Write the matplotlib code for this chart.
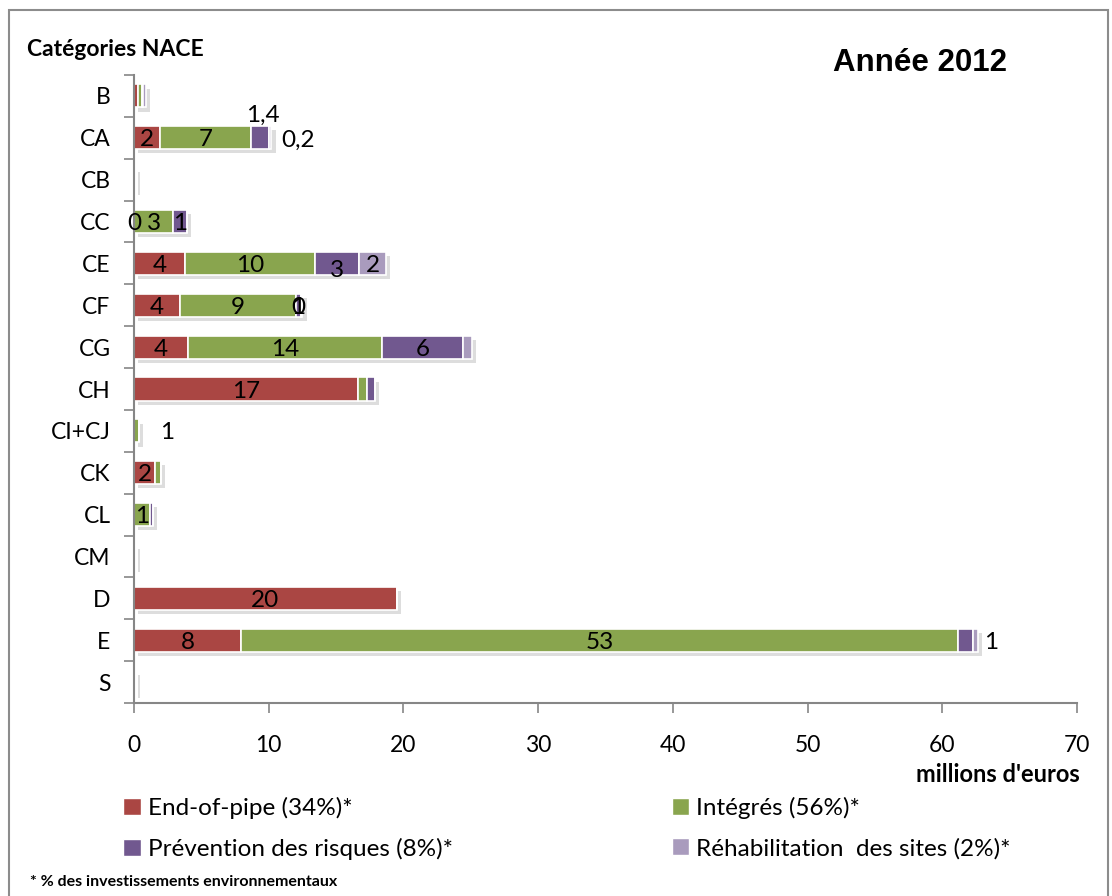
import matplotlib
matplotlib.use("Agg")
import matplotlib.pyplot as plt
import matplotlib.patheffects as pe
from matplotlib.patches import Rectangle
import numpy as np

plt.rcParams['font.family'] = ['Lato', 'DejaVu Sans']

categories = ["B", "CA", "CB", "CC", "CE", "CF", "CG", "CH", "CI+CJ", "CK", "CL", "CM", "D", "E", "S"]
end_of_pipe = [0.3, 1.9, 0.05, 0.0, 3.8, 3.4, 4.0, 16.6, 0.0, 1.55, 0.0, 0.05, 19.5, 7.95, 0.05]
integres    = [0.3, 6.8, 0.0, 2.9, 9.6, 8.6, 14.4, 0.7, 0.35, 0.45, 1.2, 0.05, 0.0, 53.2, 0.05]
prevention  = [0.1, 1.3, 0.0, 1.0, 3.3, 0.4, 6.0, 0.6, 0.0, 0.0, 0.2, 0.0, 0.0, 1.1, 0.0]
rehabilit   = [0.2, 0.2, 0.1, 0.0, 2.0, 0.1, 0.7, 0.0, 0.0, 0.0, 0.0, 0.05, 0.0, 0.4, 0.05]

series_names = ["End-of-pipe (34%)*", "Intégrés (56%)*",
                "Prévention des risques (8%)*", "Réhabilitation  des sites (2%)*"]
colors = ["#AA4643", "#89A54E", "#71588F", "#A99BBD"]

# data labels inside segments: (series index, category, text, dy rows)
inside_labels = [
    (0, "CA", "2", 0), (1, "CA", "7", 0),
    (1, "CC", "3", 0), (2, "CC", "1", 0),
    (0, "CE", "4", 0), (1, "CE", "10", 0), (2, "CE", "3", 0.12), (3, "CE", "2", 0),
    (0, "CF", "4", 0), (1, "CF", "9", 0), (2, "CF", "1", 0), (2, "CF", "0", 0),
    (0, "CG", "4", 0), (1, "CG", "14", 0), (2, "CG", "6", 0),
    (0, "CH", "17", 0), (0, "CK", "2", 0), (1, "CL", "1", 0),
    (0, "D", "20", 0), (0, "E", "8", 0), (1, "E", "53", 0),
]
# labels moved outside by hand: (category, x value, text, dy rows)
outside_labels = [
    ("CA", 9.6, "1,4", -0.58),
    ("CA", 12.2, "0,2", 0.02),
    ("CC", 0.0, "0", 0.0),
    ("CI+CJ", 2.45, "1", 0.0),
    ("E", 63.6, "1", 0.0),
]

W, H = 1112, 896
fig = plt.figure(figsize=(W / 100, H / 100), dpi=100)
ax = fig.add_axes([134 / W, 1 - 703 / H, (1077 - 134) / W, (703 - 75) / H])

y = np.arange(len(categories))
data = [end_of_pipe, integres, prevention, rehabilit]
left = np.zeros(len(categories))
shadow = [pe.SimplePatchShadow(offset=(3, -3), shadow_rgbFace='#909090', alpha=0.3), pe.Normal()]
for vals, col in zip(data, colors):
    v = np.array(vals)
    bars = ax.barh(y, v, left=left, height=0.55, color=col, edgecolor='white',
                   linewidth=1.2, zorder=2)
    for b in bars:
        b.set_path_effects(shadow)
    left = left + v

arr = np.array(data)
starts = np.vstack([np.zeros(len(categories)), np.cumsum(arr, axis=0)[:-1]])
for s, cat, txt, dy in inside_labels:
    i = categories.index(cat)
    xc = starts[s, i] + arr[s, i] / 2
    ax.text(xc, i + 0.05 + dy, txt, ha='center', va='center', fontsize=17.5, color='black', zorder=5)
for cat, xv, txt, dy in outside_labels:
    i = categories.index(cat)
    ax.text(xv, i + dy + 0.05, txt, ha='center', va='center', fontsize=17.5, color='black', zorder=5)

ax.set_xlim(0, 70)
ax.set_ylim(len(categories) - 0.5, -0.5)
ax.set_xticks(np.arange(0, 71, 10))
ax.set_yticks(y)
ax.set_yticklabels(categories)
ax.set_yticks(np.arange(-0.5, len(categories), 1), minor=True)
ax.tick_params(axis='y', which='major', length=0, pad=17, labelsize=16.5)
ax.tick_params(axis='y', which='minor', length=7, width=1.2, color='#868686', direction='out')
ax.tick_params(axis='x', length=7, width=1.2, color='#868686', direction='out', pad=16, labelsize=16.5)
for sp in ['top', 'right']:
    ax.spines[sp].set_visible(False)
for sp in ['left', 'bottom']:
    ax.spines[sp].set_color('#868686')
    ax.spines[sp].set_linewidth(1.5)

fig.text(1080 / W, 1 - 775 / H, "millions d'euros", ha='right', va='center',
         fontsize=17, fontweight='bold')
fig.text(27 / W, 1 - 50 / H, "Catégories NACE", ha='left', va='center',
         fontsize=16.5, fontweight='bold')
fig.text(920 / W, 1 - 63 / H, "Année 2012", ha='center', va='center',
         fontsize=22.5, fontweight='bold', family=['Liberation Sans', 'DejaVu Sans'])
fig.text(30 / W, 1 - 882 / H, "* % des investissements environnementaux", ha='left', va='center',
         fontsize=11.5, fontweight='bold')

handles = [Rectangle((0, 0), 1, 1, facecolor=c, edgecolor='white') for c in colors]
order = [0, 2, 1, 3]
leg = fig.legend([handles[i] for i in order], [series_names[i] for i in order],
                 ncol=2, loc='upper left', bbox_to_anchor=(123 / W, 1 - 797 / H),
                 frameon=False, fontsize=17.5, handlelength=0.72, handleheight=0.72,
                 handletextpad=0.3, columnspacing=9.0, labelspacing=0.76,
                 borderaxespad=0, borderpad=0)

fig.add_artist(Rectangle((9 / W, -0.01), (1108 - 9) / W, 1 - 10 / H + 0.01,
                         transform=fig.transFigure, fill=False, edgecolor='#8c8c8c',
                         linewidth=1.5))

fig.savefig("out.png", dpi=100)
